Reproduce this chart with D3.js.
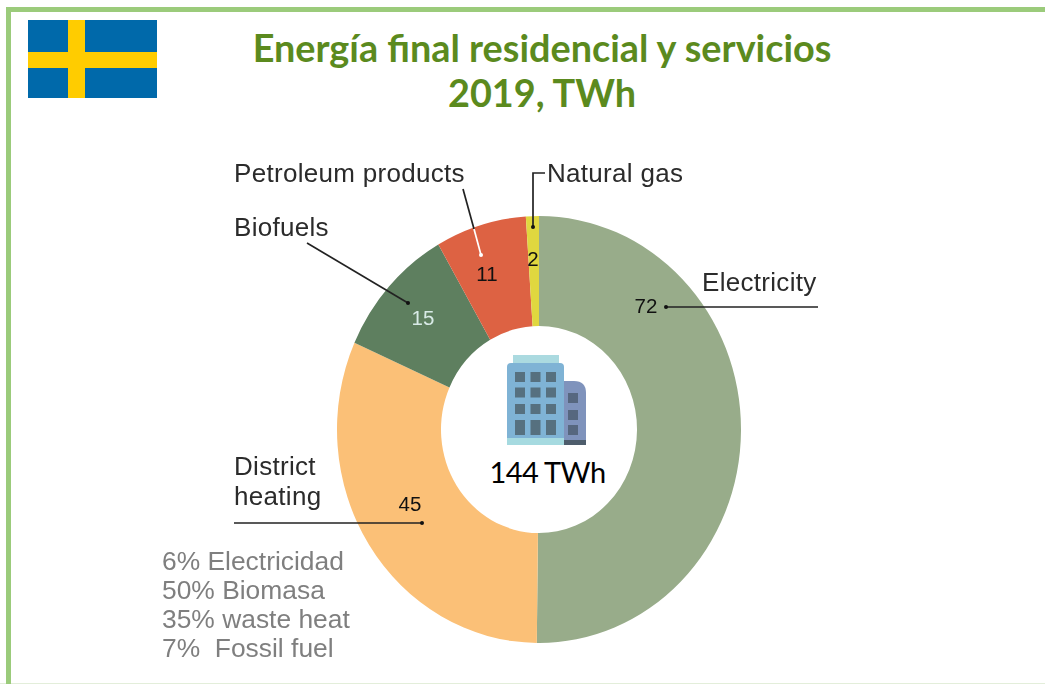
<!DOCTYPE html>
<html><head><meta charset="utf-8">
<style>html,body{margin:0;padding:0;background:#fff}svg{display:block}.soft{filter:blur(0.4px)}</style>
<script src="https://cdnjs.cloudflare.com/ajax/libs/d3/7.8.5/d3.min.js"></script>
</head><body><svg id="c" width="1045" height="684"></svg>
<script>
const categories = ["Electricity","District heating","Biofuels","Petroleum products","Natural gas"];
const valueLabels = ["72","45","15","11","2"];
// arc shares as drawn in the picture (TWh, total 144)
const values = [72.5,45.5,14.5,10.5,1.5];
const colors = ["#98AC8A","#FBC077","#5E7F5F","#DD6243","#E0D73F"];
const titleLines = ["Energía final residencial y servicios","2019, TWh"];
const totalLabel = "144 TWh";
const noteLines = ["6% Electricidad","50% Biomasa","35% waste heat","7%  Fossil fuel"];

const svg = d3.select("#c");
const W=1045,H=684;
svg.append("rect").attr("width",W).attr("height",H).attr("fill","#fff");
// frame
svg.append("rect").attr("x",0).attr("y",683).attr("width",W).attr("height",1).attr("fill","#E3EEDA");
svg.append("rect").attr("x",6).attr("y",7).attr("width",W-6).attr("height",5).attr("fill","#9BCB7B");
svg.append("rect").attr("x",6).attr("y",7).attr("width",5).attr("height",H-7).attr("fill","#9BCB7B");
// flag
const flag=svg.append("g");
flag.append("rect").attr("x",28).attr("y",20).attr("width",129).attr("height",78).attr("fill","#0069AA");
flag.append("rect").attr("x",68).attr("y",20).attr("width",17).attr("height",78).attr("fill","#FFCC00");
flag.append("rect").attr("x",28).attr("y",52).attr("width",129).attr("height",16).attr("fill","#FFCC00");
// title
svg.append("g").selectAll("text").data(titleLines).join("text")
 .attr("x",542).attr("y",(d,i)=>62+i*45).attr("text-anchor","middle")
 .attr("font-family","Lato").attr("font-weight",700).attr("font-size",37.8).attr("fill","#5B8A1E").text(d=>d);
// donut
const cx=539,cy=429.5,rx=202,ry=213.5;
const g=svg.append("g").attr("class","soft").attr("transform",`translate(${cx},${cy}) scale(1,${ry/rx})`);
const pie=d3.pie().sort(null).value(d=>d)(values);
const arc=d3.arc().innerRadius(98).outerRadius(rx);
g.selectAll("path").data(pie).join("path").attr("d",arc).attr("fill",(d,i)=>colors[i]);
// building icon
const ic=svg.append("g").attr("class","soft").attr("transform","translate(480,340)");
ic.append("rect").attr("x",33).attr("y",15).attr("width",46).attr("height",10).attr("fill","#ABDAE0");
ic.append("rect").attr("x",27).attr("y",23).attr("width",57).attr("height",80).attr("rx",4).attr("fill","#7FB3D5");
ic.append("rect").attr("x",27).attr("y",98).attr("width",57).attr("height",7).attr("fill","#A6DAE0");
ic.append("path").attr("d","M84 41H94Q106 41 106 53V105H84Z").attr("fill","#7F93BC");
ic.append("rect").attr("x",84).attr("y",100).attr("width",22).attr("height",5).attr("fill","#4E5D6C");
const cols=[35,50.5,66], rows=[32,47.5,64];
cols.forEach(x=>{rows.forEach(y=>ic.append("rect").attr("x",x).attr("y",y).attr("width",10).attr("height",10).attr("fill","#56707F"));
 ic.append("rect").attr("x",x).attr("y",80).attr("width",10).attr("height",15).attr("fill","#56707F");});
[53,70,85].forEach(y=>ic.append("rect").attr("x",88).attr("y",y).attr("width",10).attr("height",10).attr("fill","#56677F"));
svg.append("text").attr("x",547.5).attr("y",483).attr("text-anchor","middle").attr("font-family","Lato")
 .attr("font-size",29).attr("letter-spacing",-0.6).attr("fill","#000").text(totalLabel);
// leaders
const lines=[
 {p:[[666,307],[818,307]],dot:[666,307]},
 {p:[[234,523],[422,523]],dot:[422,523]},
 {p:[[307,243],[408,303]],dot:[408,303]},
 {p:[[463,189],[474,229]]},
 {p:[[545,173],[533,173],[533,227]],dot:[533,227]}];
const ln=d3.line();
const lg=svg.append("g").attr("class","soft");
lines.forEach(l=>{lg.append("path").attr("d",ln(l.p)).attr("fill","none").attr("stroke","#222").attr("stroke-width",1.7);
 if(l.dot)lg.append("circle").attr("cx",l.dot[0]).attr("cy",l.dot[1]).attr("r",2).attr("fill","#111");});
lg.append("path").attr("d",ln([[474,229],[481,255]])).attr("stroke","#fff").attr("stroke-width",1.7);
lg.append("circle").attr("cx",481).attr("cy",255).attr("r",2).attr("fill","#fff");
// category labels
const lab={font:"Liberation Sans",size:26};
const catText=[
 {t:"Electricity",x:702,y:291},{t:"District",x:234,y:475},{t:"heating",x:234,y:505},
 {t:"Biofuels",x:234,y:236},{t:"Petroleum products",x:234,y:182},{t:"Natural gas",x:547,y:182}];
svg.append("g").attr("class","soft").selectAll("text").data(catText).join("text").attr("x",d=>d.x).attr("y",d=>d.y)
 .attr("font-family",lab.font).attr("font-size",lab.size).attr("letter-spacing",0.3).attr("fill","#2b2b2b").text(d=>d.t);
// value labels
const valPos=[[646,313],[410,511],[423,325],[487,281],[533,266]];
svg.append("g").attr("class","soft").selectAll("text").data(valueLabels).join("text")
 .attr("x",(d,i)=>valPos[i][0]).attr("y",(d,i)=>valPos[i][1]).attr("text-anchor","middle")
 .attr("font-family",lab.font).attr("font-size",20.5).attr("fill",(d,i)=>i==2?"#D8EAE6":"#111").text(d=>d);
// note
svg.append("g").attr("class","soft").selectAll("text").data(noteLines).join("text").attr("x",162).attr("y",(d,i)=>570+i*29)
 .attr("font-family",lab.font).attr("font-size",26.4).attr("fill","#7F7F7F").style("white-space","pre").text(d=>d);
</script></body></html>
